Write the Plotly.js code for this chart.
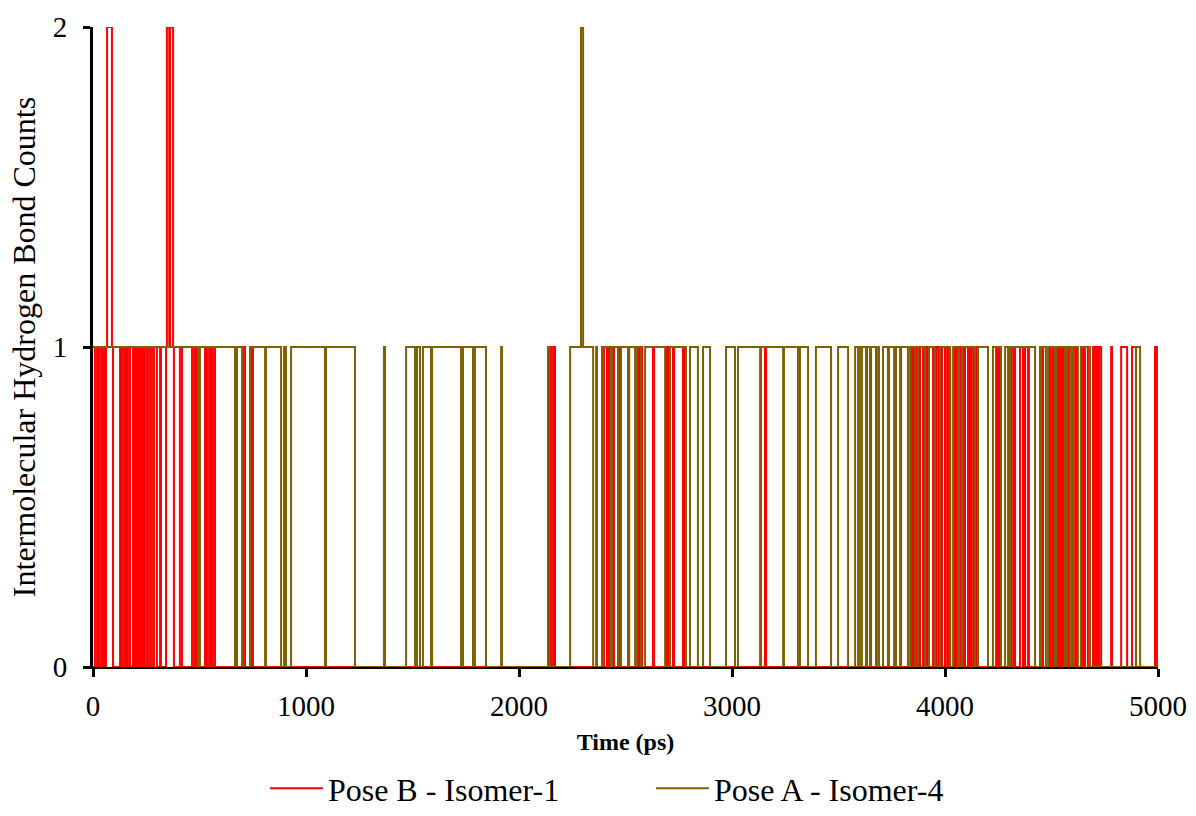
<!DOCTYPE html>
<html>
<head>
<meta charset="utf-8">
<script src="https://cdn.plot.ly/plotly-3.0.1.min.js"></script>
<style>html,body{margin:0;padding:0;background:#fff;}#chart{width:1196px;height:816px;}</style>
</head>
<body>
<div id="chart"></div>
<script>
// Pose B - Isomer-1 : intervals (ps) during which the count is above 0, and its level
var redStarts = [9, 28, 47, 61, 66, 89, 127, 146, 164, 188, 202, 216, 230, 244, 258, 272, 286, 315, 343, 347, 358, 362, 376, 408, 465, 479, 526, 545, 563, 667, 704, 746, 2146, 2160, 2390, 2413, 2427, 2441, 2474, 2512, 2559, 2573, 2629, 2690, 2700, 2723, 2770, 3155, 3841, 3855, 3869, 3878, 3897, 3911, 3944, 3958, 3972, 3982, 4000, 4014, 4047, 4061, 4085, 4108, 4122, 4141, 4240, 4254, 4310, 4324, 4352, 4371, 4390, 4456, 4493, 4507, 4526, 4540, 4554, 4578, 4596, 4611, 4643, 4657, 4695, 4709, 4723, 4780, 4827, 4878, 4986];
var redEnds   = [19, 38, 52, 66, 89, 94, 136, 155, 174, 197, 211, 225, 239, 254, 268, 282, 300, 319, 347, 358, 362, 376, 380, 418, 469, 488, 535, 554, 573, 676, 714, 751, 2150, 2169, 2399, 2418, 2437, 2446, 2479, 2517, 2568, 2578, 2634, 2695, 2704, 2728, 2779, 3160, 3850, 3864, 3873, 3883, 3902, 3916, 3949, 3968, 3977, 3986, 4010, 4024, 4052, 4071, 4094, 4113, 4132, 4150, 4249, 4258, 4320, 4329, 4366, 4376, 4394, 4460, 4503, 4517, 4531, 4545, 4559, 4582, 4601, 4615, 4648, 4671, 4704, 4718, 4733, 4784, 4855, 4897, 4995];
var redLevels = [1, 1, 1, 1, 2, 1, 1, 1, 1, 1, 1, 1, 1, 1, 1, 1, 1, 1, 1, 2, 1, 2, 1, 1, 1, 1, 1, 1, 1, 1, 1, 1, 1, 1, 1, 1, 1, 1, 1, 1, 1, 1, 1, 1, 1, 1, 1, 1, 1, 1, 1, 1, 1, 1, 1, 1, 1, 1, 1, 1, 1, 1, 1, 1, 1, 1, 1, 1, 1, 1, 1, 1, 1, 1, 1, 1, 1, 1, 1, 1, 1, 1, 1, 1, 1, 1, 1, 1, 1, 1, 1];

// Pose A - Isomer-4
var oliveStarts = [0, 502, 676, 737, 812, 897, 930, 1094, 1366, 1470, 1521, 1549, 1592, 1737, 1793, 1916, 2136, 2240, 2291, 2301, 2362, 2394, 2437, 2479, 2517, 2549, 2592, 2709, 2803, 2864, 2972, 3028, 3136, 3244, 3319, 3394, 3498, 3578, 3596, 3610, 3634, 3653, 3686, 3709, 3737, 3770, 3794, 3836, 3873, 3925, 3977, 4038, 4080, 4155, 4225, 4282, 4305, 4446, 4484, 4521, 4573, 4601, 4638, 4897];
var oliveEnds   = [493, 667, 700, 808, 883, 906, 1089, 1230, 1371, 1512, 1535, 1587, 1728, 1784, 1845, 1920, 2141, 2291, 2301, 2348, 2366, 2432, 2465, 2512, 2545, 2573, 2686, 2784, 2840, 2897, 3014, 3132, 3240, 3310, 3357, 3465, 3545, 3592, 3606, 3629, 3648, 3676, 3690, 3732, 3761, 3789, 3826, 3859, 3906, 3953, 4024, 4061, 4141, 4202, 4263, 4296, 4423, 4474, 4517, 4564, 4592, 4624, 4681, 4916];
var oliveLevels = [1, 1, 1, 1, 1, 1, 1, 1, 1, 1, 1, 1, 1, 1, 1, 1, 1, 1, 2, 1, 1, 1, 1, 1, 1, 1, 1, 1, 1, 1, 1, 1, 1, 1, 1, 1, 1, 1, 1, 1, 1, 1, 1, 1, 1, 1, 1, 1, 1, 1, 1, 1, 1, 1, 1, 1, 1, 1, 1, 1, 1, 1, 1, 1];

var seriesNames = ['Pose B - Isomer-1', 'Pose A - Isomer-4'];
var timeEnd = 5000;
var xTicks = [0, 1000, 2000, 3000, 4000, 5000];
var yTicks = [0, 1, 2];

function buildSteps(starts, ends, levels) {
  var xs = [], ys = [];
  var n = Math.min(starts.length, ends.length, levels.length);
  if (n === 0 || starts[0] > 0) { xs.push(0); ys.push(0); }
  for (var i = 0; i < n; i++) {
    xs.push(starts[i]); ys.push(levels[i]);
    var nextJoins = (i + 1 < n) && starts[i + 1] === ends[i];
    if (!nextJoins) { xs.push(ends[i]); ys.push(0); }
  }
  xs.push(timeEnd); ys.push(0);
  return {x: xs, y: ys};
}

var red = buildSteps(redStarts, redEnds, redLevels);
var olive = buildSteps(oliveStarts, oliveEnds, oliveLevels);

var serif = 'Liberation Serif';

var traces = [
  {x: red.x, y: red.y, type: 'scatter', mode: 'lines', name: seriesNames[0],
   line: {color: '#FF0000', width: 2, shape: 'hv'}},
  {x: olive.x, y: olive.y, type: 'scatter', mode: 'lines', name: seriesNames[1],
   line: {color: '#7F6000', width: 2, shape: 'hv'}}
];

var layout = {
  width: 1196, height: 816,
  margin: {l: 93, r: 38, t: 27, b: 149, autoexpand: false},
  paper_bgcolor: '#fff', plot_bgcolor: '#fff',
  font: {family: serif, color: '#000', size: 29},
  showlegend: true,
  legend: {orientation: 'h', xref: 'container', yref: 'container',
           x: 0.2215, xanchor: 'left', y: 0, yanchor: 'bottom', itemwidth: 53,
           font: {family: serif, size: 32, color: '#000'}, entrywidth: 318, entrywidthmode: 'pixels',
           bgcolor: 'rgba(0,0,0,0)'},
  xaxis: {range: [0, 5000], tickvals: xTicks, ticktext: xTicks.map(String),
          showgrid: false, zeroline: false, showline: true, linecolor: '#000', linewidth: 2,
          ticks: 'outside', ticklen: 8, tickwidth: 3, tickcolor: '#000', ticklabelstandoff: 4,
          tickfont: {family: serif, size: 29, color: '#000'},
          title: {text: '<b>Time (ps)</b>', font: {family: serif, size: 24, color: '#000'}, standoff: 12}},
  yaxis: {range: [0, 2], tickvals: yTicks, ticktext: yTicks.map(String),
          showgrid: false, zeroline: false, showline: true, linecolor: '#000', linewidth: 3,
          ticks: 'outside', ticklen: 7, tickwidth: 3, tickcolor: '#000', ticklabelstandoff: 10,
          tickfont: {family: serif, size: 29, color: '#000'},
          title: {text: 'Intermolecular Hydrogen Bond Counts', font: {family: serif, size: 32, color: '#000'}, standoff: 8}}
};

Plotly.newPlot('chart', traces, layout, {staticPlot: true, displayModeBar: false});
</script>
</body>
</html>
